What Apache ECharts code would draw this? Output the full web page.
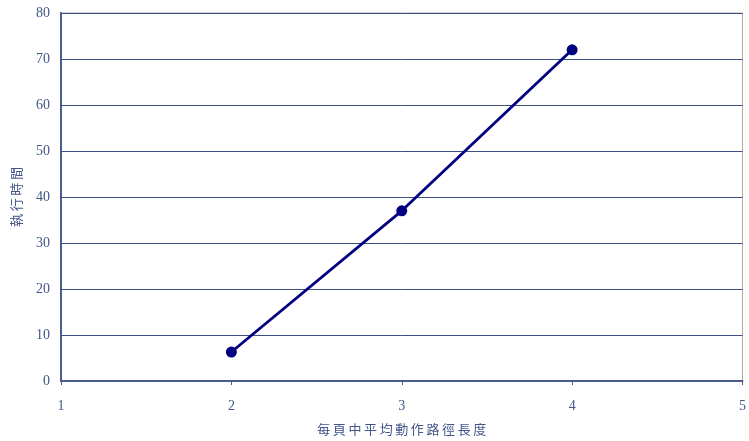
<!DOCTYPE html>
<html>
<head>
<meta charset="utf-8">
<script src="https://cdn.jsdelivr.net/npm/echarts@6/dist/echarts.min.js"></script>
<style>
  html, body { margin: 0; padding: 0; background: #ffffff; }
  #chart { width: 749px; height: 441px; }
</style>
</head>
<body>
<div id="chart"></div>
<script>
// Average action-path length per page vs. execution time
const pathLengths = [2, 3, 4];
const execTimes = [6.3, 37, 72];
const xTicks = [1, 2, 3, 4, 5];
const yTicks = [0, 10, 20, 30, 40, 50, 60, 70, 80];
const xAxisTitle = '每頁中平均動作路徑長度';
const yAxisTitle = '執行時間';

const labelColor = '#42568a';
const serif = '"Liberation Serif", "DejaVu Serif", serif';
const cjk = '"Noto Sans CJK TC", "Noto Sans CJK SC", sans-serif';

const chart = echarts.init(document.getElementById('chart'));
chart.setOption({
  animation: false,
  backgroundColor: '#ffffff',
  grid: {
    left: 61, top: 13, right: 3, bottom: 58,
    show: true, borderColor: '#a8a8a8', borderWidth: 1
  },
  xAxis: {
    type: 'value',
    min: xTicks[0], max: xTicks[xTicks.length - 1], interval: 1,
    name: xAxisTitle.split('').join('\u2009'),
    nameLocation: 'middle', nameGap: 42,
    nameTextStyle: { fontFamily: cjk, fontSize: 13, color: labelColor },
    axisLine: { show: true, onZero: false, lineStyle: { color: '#4a5d8e', width: 2 } },
    axisTick: { show: true, length: 4, lineStyle: { color: '#4a5d8e' } },
    axisLabel: { margin: 18, fontFamily: serif, fontSize: 14, color: labelColor },
    splitLine: { show: false }
  },
  yAxis: {
    type: 'value',
    min: yTicks[0], max: yTicks[yTicks.length - 1], interval: 10,
    name: yAxisTitle.split('').join('\u2009'),
    nameLocation: 'middle', nameGap: 38, nameRotate: 90,
    nameTextStyle: { fontFamily: cjk, fontSize: 13, color: labelColor },
    axisLine: { show: true, lineStyle: { color: '#4a5d8e', width: 2 } },
    axisTick: { show: false },
    axisLabel: { margin: 11, fontFamily: serif, fontSize: 14, color: labelColor },
    splitLine: { show: true, lineStyle: { color: '#3b4f86', width: 1 } }
  },
  series: [{
    type: 'line',
    data: pathLengths.map((x, i) => [x, execTimes[i]]),
    symbol: 'circle',
    symbolSize: 11,
    lineStyle: { color: '#000080', width: 2.8 },
    itemStyle: { color: '#000080' }
  }]
});
</script>
</body>
</html>
